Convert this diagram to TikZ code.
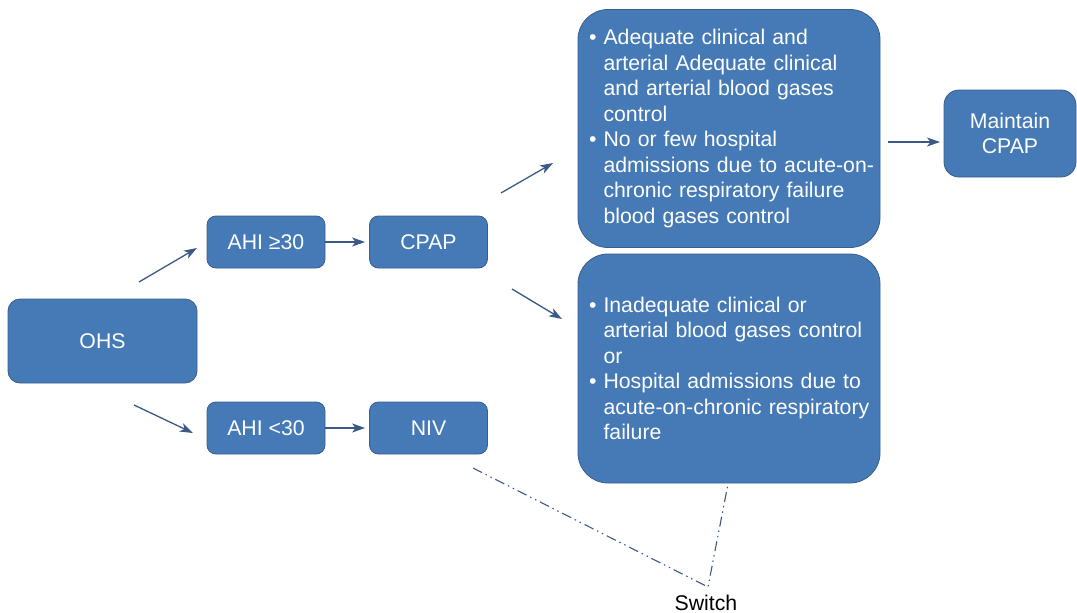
\documentclass[tikz,border=0pt]{standalone}
\usepackage{fontspec}
\setmainfont{Liberation Sans}
\usetikzlibrary{arrows.meta}
\definecolor{boxfill}{RGB}{69,122,182}
\definecolor{boxedge}{RGB}{56,94,140}
\definecolor{linkcol}{RGB}{58,90,133}
% one line of a bulleted item, and a continuation line indented under it
\newcommand{\bulline}[1]{\mbox{\textbullet\ #1}}
\newcommand{\contline}[1]{\mbox{\hphantom{\textbullet\ }#1}}
\begin{document}
\begin{tikzpicture}[x=1pt,y=-1pt,
  every node/.style={font=\fontsize{21.25}{25.5}\selectfont},
  box/.style={draw=boxedge, line width=0.8pt, fill=boxfill, text=white, inner sep=0pt},
  smallbox/.style={box, rounded corners=9pt, minimum width=118pt, minimum height=52pt},
  bigbox/.style={box, rounded corners=30pt, text width=280pt, inner xsep=11pt, align=left, minimum height=238pt},
  link/.style={draw=linkcol, line width=1.3pt, -{Stealth[length=13pt,width=9pt,inset=3.5pt]}},
  switchline/.style={draw=linkcol, line width=1.1pt, dash pattern=on 10pt off 4pt on 1.5pt off 4pt on 1.5pt off 4pt}
]
\useasboundingbox (0,0) rectangle (1077,613);

% boxes
\node[box, rounded corners=12pt, minimum width=189pt, minimum height=84pt] (ohs) at (102.5,341) {OHS};
\node[smallbox] (hi) at (266,242) {AHI ≥30};
\node[smallbox] (cpap) at (428.5,242) {CPAP};
\node[smallbox] (lo) at (266,428) {AHI <30};
\node[smallbox] (niv) at (428.5,428) {NIV};

\node[bigbox] (good) at (729,128.5) {%
  \bulline{Adequate clinical and}\\
  \contline{arterial Adequate clinical}\\
  \contline{and arterial blood gases}\\
  \contline{control}\\
  \bulline{No or few hospital}\\
  \contline{admissions due to acute-on-}\\
  \contline{chronic respiratory failure}\\
  \contline{blood gases control}};

\node[bigbox, minimum height=229pt] (bad) at (729,368.5) {%
  \bulline{Inadequate clinical or}\\
  \contline{arterial blood gases control}\\
  \contline{or}\\
  \bulline{Hospital admissions due to}\\
  \contline{acute-on-chronic respiratory}\\
  \contline{failure}};

\node[box, rounded corners=15pt, minimum width=132pt, minimum height=87pt, align=center] (keep) at (1010,133.5) {Maintain\\CPAP};

% arrows
\coordinate (ohsup) at (139,282);
\coordinate (hiin) at (197,248);
\coordinate (ohsdn) at (134,405);
\coordinate (loin) at (193,433);
\coordinate (cpapup) at (501,193);
\coordinate (goodin) at (553,163);
\coordinate (cpapdn) at (512,289);
\coordinate (badin) at (562,319);
\coordinate (goodout) at (888,142);
\coordinate (keepin) at (940,142);

\draw[link] (ohsup) -- (hiin);
\draw[link] (ohsdn) -- (loin);
\draw[link, shorten >=4pt] (hi.east) -- (cpap.west);
\draw[link, shorten >=4pt] (lo.east) -- (niv.west);
\draw[link] (cpapup) -- (goodin);
\draw[link] (cpapdn) -- (badin);
\draw[link] (goodout) -- (keepin);

% switch between NIV and the inadequate-control outcome
\coordinate (nivtail) at (473,468);
\coordinate (badtail) at (728,484);
\coordinate (sw) at (708,587);
\draw[switchline] (nivtail) -- (sw) -- (badtail);
\node[anchor=base, text=black] (switch) at (706,610) {Switch};
\end{tikzpicture}
\end{document}
